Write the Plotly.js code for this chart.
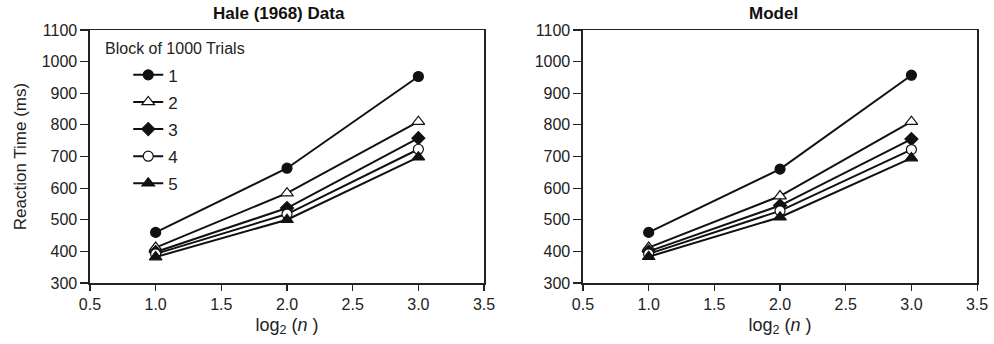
<!DOCTYPE html>
<html><head><meta charset="utf-8">
<script src="https://cdn.plot.ly/plotly-3.0.1.min.js"></script>
<style>html,body{margin:0;padding:0;background:#fff;}#chart{width:994px;height:344px;}</style>
</head><body><div id="chart"></div>
<script>
const xVals = [1.0, 2.0, 3.0];
const blockNames = ['1', '2', '3', '4', '5'];
const haleB1 = [460, 663, 953];
const haleB2 = [412, 584, 810];
const haleB3 = [398, 537, 758];
const haleB4 = [392, 518, 723];
const haleB5 = [382, 500, 698];
const modelB1 = [460, 660, 957];
const modelB2 = [412, 575, 810];
const modelB3 = [400, 545, 755];
const modelB4 = [392, 528, 722];
const modelB5 = [383, 508, 695];
const xTicks = [0.5, 1.0, 1.5, 2.0, 2.5, 3.0, 3.5];
const xTickText = ['0.5', '1.0', '1.5', '2.0', '2.5', '3.0', '3.5'];
const yTicks = [300, 400, 500, 600, 700, 800, 900, 1000, 1100];

const markerStyles = [
  {symbol: 'circle', color: '#111', line: {color: '#111', width: 1.2}, size: 10},
  {symbol: 'triangle-up', color: '#fff', line: {color: '#111', width: 1.2}, size: 11},
  {symbol: 'diamond', color: '#111', line: {color: '#111', width: 1.2}, size: 10},
  {symbol: 'circle', color: '#fff', line: {color: '#111', width: 1.2}, size: 10},
  {symbol: 'triangle-up', color: '#111', line: {color: '#111', width: 1.2}, size: 11}
];
const hale = [haleB1, haleB2, haleB3, haleB4, haleB5];
const model = [modelB1, modelB2, modelB3, modelB4, modelB5];
const traces = [];
hale.forEach((ys, i) => traces.push({
  x: xVals, y: ys, name: blockNames[i], type: 'scatter', mode: 'lines+markers', legendgroup: 'g' + i,
  line: {color: '#111', width: 2}, marker: markerStyles[i], xaxis: 'x', yaxis: 'y', showlegend: true
}));
model.forEach((ys, i) => traces.push({
  x: xVals, y: ys, name: blockNames[i], type: 'scatter', mode: 'lines+markers', legendgroup: 'g' + i,
  line: {color: '#111', width: 2}, marker: markerStyles[i], xaxis: 'x2', yaxis: 'y2', showlegend: false
}));

const fam = 'Liberation Sans, Arial, sans-serif';
const font = {family: fam, size: 16, color: '#222'};
const xaxisBase = {
  range: [0.5, 3.5], tickvals: xTicks, ticktext: xTickText, showgrid: false, zeroline: false,
  showline: true, linecolor: '#222', linewidth: 1.5, mirror: true, ticks: 'outside', ticklen: 6,
  tickcolor: '#222', tickwidth: 1.2, tickfont: font,
  title: {text: 'log<sub>2</sub> (<i>n</i> )', font: {family: fam, size: 18, color: '#222'}, standoff: 6}
};
const yaxisBase = {
  range: [300, 1100], tickvals: yTicks, showgrid: false, zeroline: false,
  showline: true, linecolor: '#222', linewidth: 1.5, mirror: true, ticks: 'outside', ticklen: 8,
  tickcolor: '#222', tickwidth: 1.2, tickfont: font
};
const layout = {
  width: 994, height: 344, paper_bgcolor: '#fff', plot_bgcolor: '#fff',
  margin: {l: 0, r: 0, t: 30, b: 61}, font: font,
  xaxis: Object.assign({}, xaxisBase, {domain: [0.0905, 0.487], anchor: 'y'}),
  yaxis: Object.assign({}, yaxisBase, {domain: [0, 1], anchor: 'x',
    title: {text: 'Reaction Time (ms)', font: {family: fam, size: 17, color: '#222'}, standoff: 10}}),
  xaxis2: Object.assign({}, xaxisBase, {domain: [0.5865, 0.983], anchor: 'y2'}),
  yaxis2: Object.assign({}, yaxisBase, {domain: [0, 1], anchor: 'x2'}),
  legend: {
    x: 0.129, y: 0.892, xanchor: 'left', yanchor: 'top', bgcolor: 'rgba(0,0,0,0)',
    font: {family: fam, size: 17, color: '#222'}, tracegroupgap: 2, itemwidth: 30
  },
  annotations: [
    {text: '<b>Hale (1968) Data</b>', x: 0.2802, y: 1, xref: 'paper', yref: 'paper', xanchor: 'center', yanchor: 'bottom',
     yshift: 5, showarrow: false, font: {family: fam, size: 17, color: '#111'}},
    {text: '<b>Model</b>', x: 0.7777, y: 1, xref: 'paper', yref: 'paper', xanchor: 'center', yanchor: 'bottom',
     yshift: 5, showarrow: false, font: {family: fam, size: 17, color: '#111'}},
    {text: 'Block of 1000 Trials', x: 0.1036, y: 0.969, xref: 'paper', yref: 'paper', xanchor: 'left', yanchor: 'top',
     showarrow: false, font: {family: fam, size: 16, color: '#222'}}
  ]
};
Plotly.newPlot('chart', traces, layout, {staticPlot: true, displayModeBar: false});
</script></body></html>
